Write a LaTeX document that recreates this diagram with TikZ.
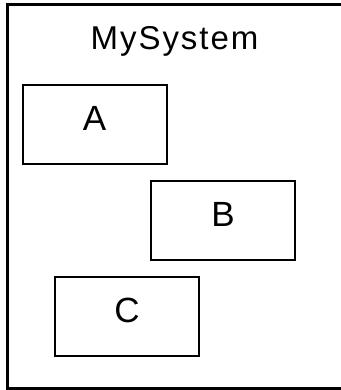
\documentclass[tikz,border=0pt]{standalone}
\usepackage{fontspec}
\setmainfont{Liberation Sans}
\newfontfamily\widesans[LetterSpace=6]{Liberation Sans}
\usepackage{tikz}
\usetikzlibrary{positioning}
\tikzset{
	% Specifications for style of nodes:
	frame/.style = {rectangle,
	minimum width=340pt, minimum height=383pt,
	draw=black, line width=3pt},
	comp/.style = {rectangle,
	minimum width=144pt, minimum height=79pt,
	draw=black, line width=2pt,
	text height=25pt, text depth=13pt,
	text centered, font=\fontsize{35}{38}\selectfont},
	title/.style = {font=\widesans\fontsize{33}{36}\selectfont, inner sep=0pt},
}

\begin{document}
\begin{tikzpicture}[x=1pt, y=-1pt]
	\useasboundingbox (0,0) rectangle (340,390);
		% system boundary
		\node (sys)[frame] at (177,196.5) {};
		\node (name)[title, anchor=base] at (174.5,50) {MySystem};
		% parts
		\node (a)[comp] at (94.5,124.7) {A};
		\node (b)[comp, below=15pt of a, xshift=128.5pt] {B};
		\node (c)[comp, below=15pt of b, xshift=-96pt] {C};
	\end{tikzpicture}
\end{document}
